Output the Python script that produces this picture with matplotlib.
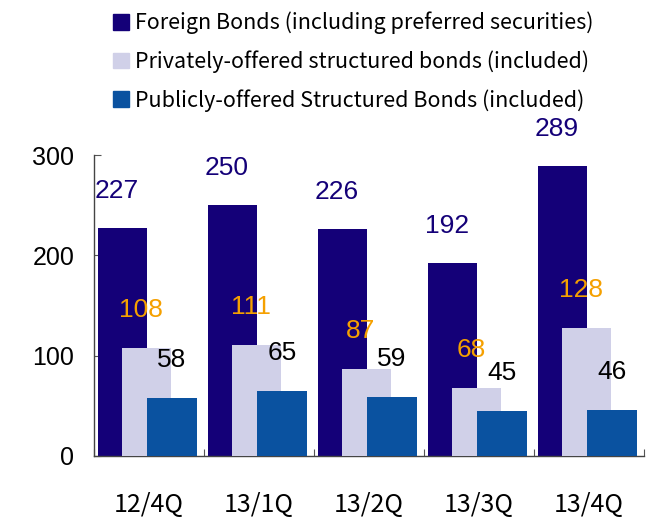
import matplotlib
matplotlib.use("Agg")
import matplotlib.pyplot as plt
import numpy as np
from matplotlib.patches import Patch

categories = ["12/4Q", "13/1Q", "13/2Q", "13/3Q", "13/4Q"]
foreign = [227, 250, 226, 192, 289]
private = [108, 111, 87, 68, 128]
public = [58, 65, 59, 45, 46]
series_names = ["Foreign Bonds (including preferred securities)",
                "Privately-offered structured bonds (included)",
                "Publicly-offered Structured Bonds (included)"]

c_navy = "#140078"
c_lav = "#d0d0e8"
c_blue = "#0a52a0"
c_orange = "#f5a000"

jp = ["Noto Sans CJK JP", "DejaVu Sans"]
num = ["Liberation Sans", "DejaVu Sans"]

fig = plt.figure(figsize=(6.47, 5.17), dpi=100)
ax = fig.add_axes([0.145, 0.118, 0.85, 0.582])

x = np.arange(len(categories))
w = 0.45
offs = [-0.24, -0.02, 0.21]
ax.bar(x + offs[0], foreign, w, color=c_navy, zorder=2)
ax.bar(x + offs[1], private, w, color=c_lav, zorder=3)
ax.bar(x + offs[2], public, w, color=c_blue, zorder=4)

fs_num = 19
for i in range(len(categories)):
    ax.annotate(str(foreign[i]), (x[i] + offs[0], foreign[i]), xytext=(-4, 27),
                textcoords="offset points", ha="center", va="center",
                fontsize=fs_num, color=c_navy, family=num, annotation_clip=False)
    ax.annotate(str(private[i]), (x[i] + offs[1], private[i]), xytext=(-4, 27),
                textcoords="offset points", ha="center", va="center",
                fontsize=fs_num, color=c_orange, family=num, annotation_clip=False)
    ax.annotate(str(public[i]), (x[i] + offs[2], public[i]), xytext=(0, 27),
                textcoords="offset points", ha="center", va="center",
                fontsize=fs_num, color="black", family=num, annotation_clip=False)

ax.set_xlim(-0.5, len(categories) - 0.5)
ax.set_ylim(0, 300)
ax.set_yticks([0, 100, 200, 300])
ax.set_yticklabels(["0", "100", "200", "300"], family=num, fontsize=18)
ax.set_xticks(np.arange(len(categories) + 1) - 0.5)
ax.set_xticklabels([])
ax.set_xticks(x, minor=True)
ax.set_xticklabels(categories, minor=True, family=jp, fontsize=18)
ax.tick_params(axis="x", which="minor", length=0, pad=26)
ax.tick_params(axis="x", which="major", direction="in", length=5, color="#555555")
ax.tick_params(axis="y", direction="in", length=5, pad=14, color="#555555")
for s in ["top", "right"]:
    ax.spines[s].set_visible(False)
for s in ["left", "bottom"]:
    ax.spines[s].set_color("#444444")
    ax.spines[s].set_linewidth(1.0)

handles = [Patch(color=c_navy), Patch(color=c_lav), Patch(color=c_blue)]
fig.legend(handles, series_names, loc="upper left", bbox_to_anchor=(0.145, 1.015),
           frameon=False, prop={"family": jp, "size": 15.5}, handlelength=0.75,
           handleheight=0.75, handletextpad=0.25, labelspacing=0.75)

fig.savefig("out.png", dpi=100)
